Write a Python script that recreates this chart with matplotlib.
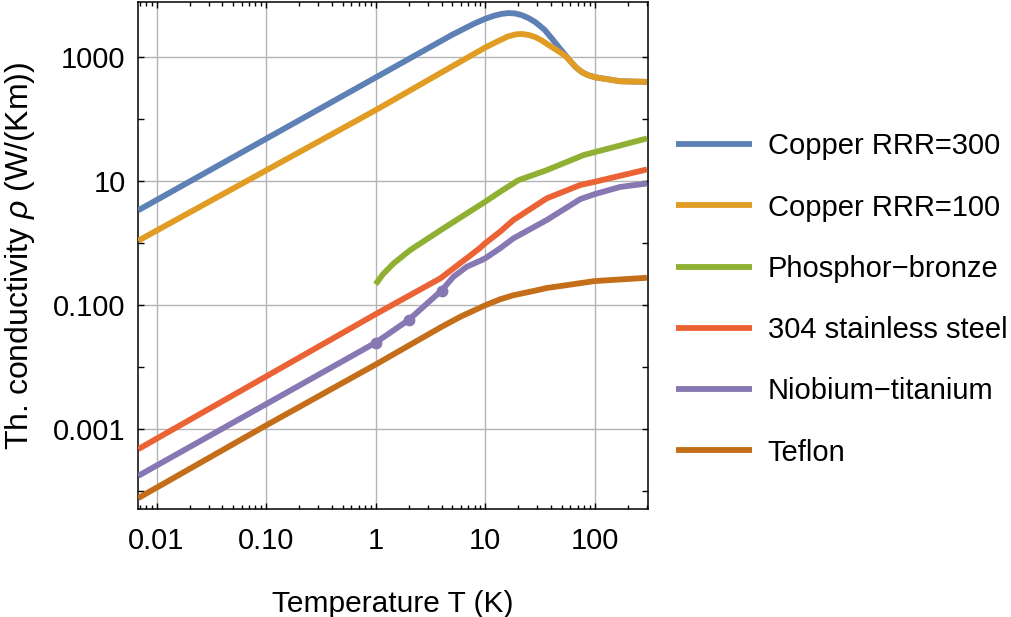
import matplotlib
matplotlib.use("Agg")
import matplotlib.pyplot as plt
from matplotlib.ticker import FixedLocator, FixedFormatter, NullFormatter

plt.rcParams['font.family'] = ['Liberation Sans', 'DejaVu Sans']
plt.rcParams['mathtext.fontset'] = 'custom'
plt.rcParams['mathtext.rm'] = 'Liberation Sans'
plt.rcParams['mathtext.it'] = 'Liberation Sans:italic'

# ---------------- data ----------------
labels = ["Copper RRR=300", "Copper RRR=100", "Phosphor\u2212bronze",
          "304 stainless steel", "Niobium\u2212titanium", "Teflon"]
colors = ["#5E81B5", "#E19C24", "#8FB032", "#EB6235", "#8778B3", "#C56E1A"]

T_cu300 = [0.0068, 1, 5, 8, 10, 12, 14.2, 16.4, 19, 21.7, 25, 28.8, 35, 41, 47,
           54.7, 60, 68, 77, 87, 100, 171, 300]
k_cu300 = [3.4, 470, 2300, 3500, 4150, 4650, 5000, 5150, 5050, 4750, 4250, 3660,
           2750, 1960, 1450, 1050, 860, 675, 570, 513, 476, 409, 400]

T_cu100 = [0.0068, 1, 3.8, 10, 13, 16, 19, 21.7, 25, 28.8, 33, 38.4, 45, 50,
           54.7, 60, 68, 77, 87, 100, 171, 300]
k_cu100 = [1.1, 140, 540, 1430, 1800, 2150, 2330, 2370, 2280, 2100, 1850, 1550,
           1300, 1150, 1020, 860, 675, 570, 513, 476, 409, 400]

T_pb = [1, 1.17, 1.46, 2.07, 4.16, 10, 13.7, 20.1, 36.5, 79, 300]
k_pb = [0.218, 0.319, 0.474, 0.778, 1.74, 4.67, 6.77, 10.4, 15.1, 26.4, 49]

T_ss = [0.0068, 1, 3.9, 8.9, 10, 13.7, 18.1, 36.5, 73.8, 100, 300]
k_ss = [4.8e-4, 0.072, 0.272, 0.83, 1.0, 1.54, 2.37, 5.3, 8.7, 9.8, 15.5]

T_nbti = [0.0068, 1, 2, 4, 5.14, 6.8, 9, 10, 13.7, 18.1, 36.5, 73.8, 100, 171, 300]
k_nbti = [1.78e-4, 0.025, 0.058, 0.173, 0.289, 0.419, 0.523, 0.571, 0.83, 1.2,
          2.37, 5.15, 6.2, 8.1, 9.2]
T_nbti_pts = [1, 2, 4]
k_nbti_pts = [0.025, 0.058, 0.173]

T_tef = [0.0068, 0.1, 1, 4, 6, 10, 13.7, 18, 28.8, 36.5, 100, 300]
k_tef = [7.8e-5, 1.16e-3, 0.0111, 0.045, 0.066, 0.1, 0.125, 0.145, 0.173, 0.19,
         0.246, 0.278]

x_ticks = [0.01, 0.1, 1, 10, 100]
x_ticklabels = ["0.01", "0.10", "1", "10", "100"]
y_ticks = [1e-3, 1e-1, 10, 1000]
y_ticklabels = ["0.001", "0.100", "10", "1000"]
y_minor = [1e-4, 1e-2, 1, 100]

series = [(T_cu300, k_cu300), (T_cu100, k_cu100), (T_pb, k_pb),
          (T_ss, k_ss), (T_nbti, k_nbti), (T_tef, k_tef)]

# ---------------- figure ----------------
fig = plt.figure(figsize=(10.11, 6.17), dpi=100)
ax = fig.add_axes([0.1367, 0.175, 0.5043, 0.822])

lines = []
for (T, k), lab, c in zip(series, labels, colors):
    ln, = ax.plot(T, k, color=c, lw=4.2, label=lab, solid_capstyle='butt',
                  solid_joinstyle='round', zorder=3)
    lines.append(ln)
ax.plot(T_nbti_pts, k_nbti_pts, 'o', color=colors[4], ms=7.5, zorder=4)

ax.set_xscale('log')
ax.set_yscale('log')
ax.set_xlim(0.0068, 307)
ax.set_ylim(5.2e-5, 7800)

ax.xaxis.set_major_locator(FixedLocator(x_ticks))
ax.xaxis.set_major_formatter(FixedFormatter(x_ticklabels))
xminor = [m * d for d in [0.001, 0.01, 0.1, 1, 10, 100] for m in range(2, 10)]
ax.xaxis.set_minor_locator(FixedLocator(xminor))
ax.xaxis.set_minor_formatter(NullFormatter())

ax.yaxis.set_major_locator(FixedLocator(y_ticks))
ax.yaxis.set_major_formatter(FixedFormatter(y_ticklabels))
ax.yaxis.set_minor_locator(FixedLocator(y_minor))
ax.yaxis.set_minor_formatter(NullFormatter())

ax.tick_params(which='both', direction='in', top=True, right=True,
               labelsize=21, colors='black', width=1.0)
ax.tick_params(axis='x', which='major', length=4.5, pad=13)
ax.tick_params(axis='x', which='minor', length=2.8)
ax.tick_params(axis='y', which='major', length=4.5, pad=9)
ax.tick_params(axis='y', which='minor', length=4.5)

ax.grid(True, which='major', color='#b4b4b4', lw=1.0, zorder=0)
for s in ax.spines.values():
    s.set_linewidth(1.1)
    s.set_color('black')

ax.set_xlabel("Temperature T (K)", fontsize=21.5)
ax.set_ylabel(r"Th. conductivity $\mathit{\rho}$ (W/(Km))", fontsize=23)
ax.xaxis.set_label_coords(0.5, -0.16)
ax.yaxis.set_label_coords(-0.198, 0.5)

fig.legend(handles=lines, labels=labels, loc='center left',
           bbox_to_anchor=(676 / 1011, 1 - 299.5 / 617),
           bbox_transform=fig.transFigure, frameon=False, fontsize=21,
           handlelength=2.6, handletextpad=0.55, labelspacing=1.14,
           borderpad=0, borderaxespad=0)

fig.savefig("out.png", dpi=100)
